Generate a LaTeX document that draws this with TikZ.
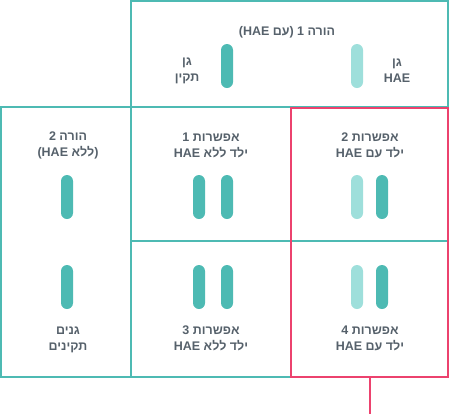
\documentclass[tikz,border=0pt]{standalone}
\usepackage{fontspec}
\newfontfamily\hebfont[Script=Hebrew]{Liberation Sans}
\TeXXeTstate=1
\definecolor{teal1}{HTML}{4DBAB3}
\definecolor{teal2}{HTML}{9EDFDB}
\definecolor{red1}{HTML}{EC426E}
\definecolor{txtgray}{HTML}{56616B}
\newcommand{\heb}[1]{\beginR #1\endR}
\tikzset{
  cell/.style={draw=teal1, line width=2pt, minimum width=#1, inner sep=0},
  pick/.style={draw=red1, line width=2pt, inner sep=0},
  gene/.style={fill=#1, rounded corners=6pt, minimum width=12pt, minimum height=44pt, inner sep=0},
  lbl/.style={font=\hebfont\bfseries\fontsize{12.5}{16}\selectfont, text=txtgray, align=center, inner sep=0}
}
\begin{document}
\begin{tikzpicture}[x=1pt,y=-1pt]
  \useasboundingbox (0,0) rectangle (450,416);
  % parent 1 (top)
  \node[cell=317pt, minimum height=106pt] (par1) at (289.5,54) {};
  \node[lbl] (par1t) at (287,32) {\heb{הורה 1 (עם \beginL HAE\endL)}};
  \node[gene=teal1] (g1a) at (227,66) {};
  \node[gene=teal2] (g1b) at (357,66) {};
  \node[lbl] (g1at) at (187,71) {\heb{גן}\\\heb{תקין}};
  \node[lbl] (g1bt) at (397,71) {\heb{גן}\\HAE};
  % parent 2 (left)
  \node[cell=130pt, minimum height=270pt] (par2) at (66,242) {};
  \node[lbl] (par2t) at (68,145) {\heb{הורה 2}\\\heb{(ללא \beginL HAE\endL)}};
  \node[gene=teal1] (g2a) at (67,197) {};
  \node[gene=teal1] (g2b) at (67,287) {};
  \node[lbl] (g2t) at (68,340) {\heb{גנים}\\\heb{תקינים}};
  % the four options
  \node[cell=160pt, minimum height=134pt] (opt1) at (211,174) {};
  \node[cell=157pt, minimum height=134pt] (opt2) at (369.5,174) {};
  \node[cell=160pt, minimum height=136pt] (opt3) at (211,309) {};
  \node[cell=157pt, minimum height=136pt] (opt4) at (369.5,309) {};
  \node[lbl] (opt1t) at (211,145) {\heb{אפשרות 1}\\\heb{ילד ללא \beginL HAE\endL}};
  \node[lbl] (opt2t) at (370,145) {\heb{אפשרות 2}\\\heb{ילד עם \beginL HAE\endL}};
  \node[lbl] (opt3t) at (211,338) {\heb{אפשרות 3}\\\heb{ילד ללא \beginL HAE\endL}};
  \node[lbl] (opt4t) at (370,338) {\heb{אפשרות 4}\\\heb{ילד עם \beginL HAE\endL}};
  \node[gene=teal1] (o1a) at (199,197) {};
  \node[gene=teal1] (o1b) at (227,197) {};
  \node[gene=teal2] (o2a) at (357,197) {};
  \node[gene=teal1] (o2b) at (382,197) {};
  \node[gene=teal1] (o3a) at (199,287) {};
  \node[gene=teal1] (o3b) at (227,287) {};
  \node[gene=teal2] (o4a) at (357,287) {};
  \node[gene=teal1] (o4b) at (382,287) {};
  % options with HAE
  \node[pick, minimum width=157pt, minimum height=269pt] (hae) at (369.5,242.5) {};
  \coordinate (tail) at (hae.south |- 0,414);
  \draw[red1, line width=2pt] (hae.south) -- (tail);
\end{tikzpicture}
\end{document}
